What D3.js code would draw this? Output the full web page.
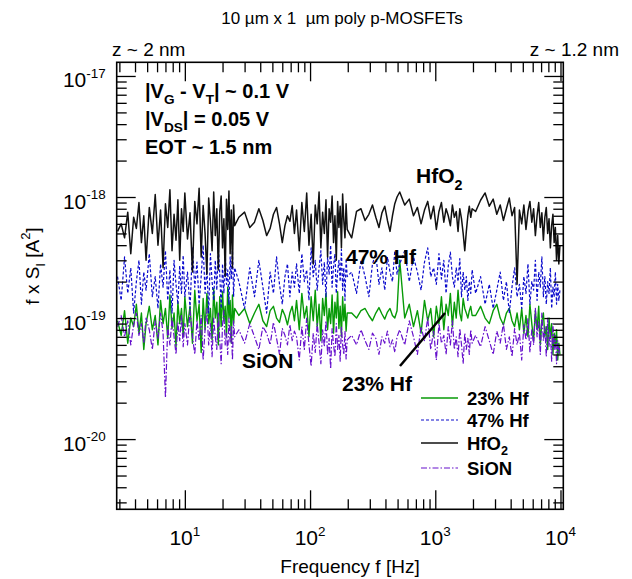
<!DOCTYPE html>
<html>
<head>
<meta charset="utf-8">
<script src="https://cdn.jsdelivr.net/npm/d3@7"></script>
<style>
  body { margin: 0; background: #fff; }
  svg { display: block; font-family: "Liberation Sans", Arial, Helvetica, sans-serif; }
</style>
</head>
<body>
<div id="chart"></div>
<script>
/* f x S_I gegen Frequenz, 10 µm x 1 µm poly p-MOSFETs
 * Werte abgelesen, Einheit 1e-19 A^2 */

const UNIT = 1e-19;

// Frequenzraster [Hz]
const FREQ_HZ = [
  2.9, 3.1, 3.3, 3.5, 3.7, 3.9, 4.1, 4.3, 4.5, 4.7, 4.9,
  5.2, 5.5, 5.8, 6.1, 6.4, 6.7, 7.0, 7.3, 7.6, 7.9, 8.2, 8.5, 8.8, 9.1, 9.4, 9.7,
  10, 10.5, 11, 11.5, 12, 12.5, 13, 13.5, 14, 14.5, 15, 15.5, 16, 16.5, 17, 17.5,
  18, 18.5, 19, 19.5, 20, 20.5, 21, 21.5, 22, 22.5, 23, 23.5, 24, 24.5, 25,
  27, 30, 33, 36, 39, 42, 45, 48, 51, 54, 57, 60, 63, 66, 69, 72, 75,
  78, 82, 86, 90, 94, 98, 102, 106, 110, 114, 118, 122, 126, 130, 134, 138, 142,
  146, 150, 154, 158, 162, 166, 170, 174, 178, 182, 186, 190, 194, 198,
  215, 235, 255, 275, 295, 315, 335, 355, 375, 395, 415, 435, 455, 475, 495,
  520, 570, 620, 670, 720, 770, 820, 870, 920, 970, 1020, 1070, 1120, 1170, 1220,
  1270, 1320, 1370, 1420, 1470, 1520, 1570, 1620, 1670, 1720, 1770, 1820, 1870, 1920, 1970,
  2100, 2300, 2500, 2700, 2900, 3100, 3300, 3500, 3700, 3900, 4100, 4300, 4500, 4700,
  4900, 5100, 5300, 5500, 5700, 5900, 6100, 6300, 6500, 6700, 6900, 7100, 7300, 7500,
  7700, 7900, 8100, 8300, 8500, 8700, 8900, 9100, 9300, 9500, 9700, 9900
];

const HF23 = [
  0.95, 0.72, 1.15, 0.62, 1.0, 0.85, 1.3, 0.75, 1.1, 0.55, 0.9,
  1.25, 0.8, 1.05, 0.6, 1.4, 0.9, 1.2, 0.68, 1.55, 0.82, 1.1, 0.58, 1.35, 0.9, 1.2, 0.7,
  1.5, 0.85, 1.25, 0.62, 1.7, 0.95, 1.3, 0.52, 1.45, 0.8, 1.6, 0.9, 1.2, 0.66, 1.75, 1.0,
  1.35, 0.6, 1.5, 0.85, 1.65, 0.95, 1.25, 0.7, 1.8, 1.0, 1.4, 0.62, 1.55, 0.9, 1.2,
  1.05, 1.2, 0.9, 1.1, 1.3, 0.95, 0.85, 1.15, 1.25, 1.0, 0.92, 1.18, 1.05, 0.88, 1.1, 1.25, 0.95,
  1.4, 0.8, 1.6, 1.0, 1.25, 0.7, 1.5, 0.95, 1.7, 0.85, 1.3, 0.65, 1.45, 1.05, 1.6, 0.8,
  1.2, 0.9, 1.55, 0.75, 1.35, 1.0, 1.65, 0.82, 1.25, 0.7, 1.5, 0.95, 1.3, 0.78, 1.1,
  1.1, 1.0, 1.15, 1.2, 1.05, 0.95, 1.1, 1.22, 1.08, 0.98, 1.12, 1.2, 1.05, 1.0, 1.15,
  3.0, 1.0, 1.3, 0.85, 1.15, 0.75, 1.4, 0.95, 1.2, 0.7, 1.25, 0.9, 1.5, 0.8, 1.3,
  1.05, 1.6, 0.85, 1.35, 1.0, 1.7, 1.1, 0.95, 1.45, 1.2, 1.1, 1.0, 1.15, 1.25, 1.05,
  1.05, 1.25, 1.0, 0.9, 1.15, 1.3, 1.0, 0.88, 1.1, 1.2, 0.95, 0.85, 1.1, 0.8,
  1.2, 0.75, 1.05, 0.7, 1.3, 0.9, 0.65, 1.15, 0.8, 1.25, 0.6, 0.95, 1.1, 0.7,
  0.85, 0.55, 1.0, 0.68, 0.9, 0.5, 0.75, 0.58, 0.8, 0.45, 0.62, 0.5
];

const HF47 = [
  2.2, 1.4, 3.2, 1.6, 2.6, 1.1, 2.0, 3.0, 1.3, 2.4, 1.7,
  3.4, 1.5, 2.2, 1.2, 2.8, 1.8, 3.6, 1.4, 2.5, 1.1, 3.0, 1.9, 1.3, 2.7, 1.6, 3.3,
  1.5, 2.4, 1.2, 3.8, 1.8, 2.9, 1.3, 2.2, 4.0, 1.6, 2.6, 1.1, 3.4, 2.0, 1.4, 3.0,
  1.7, 3.9, 2.3, 1.2, 2.8, 1.6, 3.5, 1.9, 2.5, 1.3, 3.2, 2.1, 3.8, 1.5, 2.6,
  2.0, 1.2, 2.6, 1.5, 3.0, 1.8, 1.1, 2.4, 1.6, 3.2, 1.9, 1.3, 2.2, 2.8, 1.5, 2.4, 1.8,
  2.8, 1.6, 3.4, 2.0, 2.5, 1.4, 3.8, 2.2, 3.0, 1.7, 2.6, 3.6, 1.9, 2.9, 1.5, 3.2,
  2.3, 4.0, 1.8, 2.7, 3.4, 1.6, 2.4, 3.0, 2.0, 3.7, 1.7, 2.6, 1.4, 3.1, 2.2,
  2.4, 1.6, 3.0, 2.2, 1.5, 2.8, 3.4, 1.9, 2.6, 1.7, 3.2, 2.4, 2.0, 3.6, 2.3,
  2.8, 3.6, 2.0, 3.2, 2.4, 1.7, 2.9, 3.8, 2.2, 2.6, 1.9, 3.4, 2.1, 3.0, 1.6,
  2.7, 3.5, 2.2, 1.8, 2.6, 2.0, 3.1, 1.5, 2.4, 1.7, 2.2, 1.4, 2.0, 1.6, 2.5,
  1.6, 2.2, 1.3, 1.9, 1.2, 1.7, 2.4, 1.4, 2.0, 1.1, 1.8, 2.6, 1.5, 1.9,
  1.2, 2.2, 1.6, 2.8, 1.3, 2.0, 1.7, 3.0, 1.4, 2.4, 1.8, 3.2, 1.5, 2.2,
  1.3, 2.0, 1.6, 2.6, 1.2, 1.8, 1.5, 2.4, 1.3, 1.9, 1.4, 1.7
];

const HFO2 = [
  5.2, 6.0, 4.6, 7.5, 3.4, 6.8, 5.5, 9.0, 4.2, 7.0, 3.0,
  8.2, 5.0, 10.5, 4.0, 7.8, 2.6, 8.8, 5.6, 11.5, 3.6, 7.2, 4.4, 9.5, 3.0, 8.0, 5.2,
  10.8, 4.5, 7.4, 2.4, 9.2, 6.0, 11.8, 3.2, 8.5, 5.0, 2.3, 9.8, 6.4, 3.6, 11.0, 4.8,
  8.0, 2.5, 7.6, 10.2, 3.8, 6.6, 2.2, 9.6, 5.4, 11.2, 3.4, 7.8, 2.6, 8.6, 5.8,
  6.8, 7.5, 5.6, 6.2, 8.0, 6.4, 4.8, 5.5, 7.2, 8.2, 6.0, 4.2, 5.8, 7.0, 6.3, 8.5, 5.0,
  7.8, 3.6, 9.0, 5.2, 10.8, 4.0, 7.2, 2.8, 8.6, 6.0, 11.0, 3.8, 7.5, 5.0, 9.5, 3.2,
  8.0, 6.2, 10.2, 4.2, 7.0, 3.0, 9.2, 5.6, 8.4, 3.8, 10.6, 6.4, 4.6, 8.8, 5.4,
  4.6, 7.6, 8.0, 6.4, 7.2, 8.6, 6.8, 5.6, 7.4, 8.4, 6.4, 5.2, 7.0, 8.8, 10.0,
  11.0, 8.6, 9.6, 7.0, 8.2, 6.0, 7.8, 9.2, 6.6, 8.4, 5.4, 7.6, 9.0, 6.2, 8.0,
  7.0, 5.8, 8.6, 6.8, 7.6, 5.2, 8.0, 6.6, 5.0, 3.6, 5.2, 7.0, 8.4, 6.8, 8.0,
  7.6, 9.4, 10.8, 8.4, 9.6, 7.2, 8.6, 6.4, 8.0, 9.8, 7.0, 8.2, 1.9, 7.8,
  6.0, 8.6, 5.4, 7.6, 9.2, 6.2, 8.0, 4.8, 7.0, 9.0, 5.6, 7.4, 4.4, 6.8,
  8.2, 5.0, 6.6, 3.8, 5.8, 7.2, 4.2, 5.6, 3.0, 4.8, 2.8, 4.0
];

const SION = [
  0.85, 1.05, 0.7, 0.95, 0.6, 0.88, 1.1, 0.72, 0.9, 0.62, 1.0,
  0.8, 0.55, 0.95, 0.68, 1.1, 0.75, 0.22, 0.85, 0.6, 1.0, 0.7, 0.5, 0.92, 0.65, 1.05, 0.58,
  0.9, 0.6, 1.15, 0.7, 0.5, 0.95, 0.65, 1.05, 0.45, 0.8, 1.2, 0.6, 0.9, 0.48, 1.0, 0.7,
  0.55, 1.1, 0.66, 0.42, 0.88, 1.15, 0.6, 0.75, 0.5, 1.0, 0.62, 0.85, 0.45, 0.95, 0.7,
  0.8, 0.62, 0.9, 0.7, 0.55, 0.85, 0.75, 0.6, 0.92, 0.68, 0.5, 0.82, 0.72, 0.6, 0.88, 0.65, 0.78,
  0.7, 0.45, 0.85, 0.55, 1.0, 0.6, 0.4, 0.75, 0.52, 0.9, 0.62, 0.42, 0.8, 0.58, 0.95, 0.5,
  0.68, 0.38, 0.82, 0.6, 0.48, 0.9, 0.55, 0.72, 0.44, 0.85, 0.6, 0.5, 0.78, 0.46, 0.66,
  0.72, 0.6, 0.8, 0.65, 0.55, 0.75, 0.68, 0.5, 0.7, 0.62, 0.78, 0.58, 0.66, 0.52, 0.7,
  0.8, 0.6, 0.95, 0.7, 0.5, 0.85, 0.65, 1.0, 0.55, 0.78, 0.45, 0.9, 0.62, 0.72, 0.5,
  0.85, 0.6, 0.95, 0.55, 0.7, 0.48, 0.82, 0.6, 0.42, 0.75, 0.55, 0.68, 0.5, 0.8, 0.62,
  0.72, 0.58, 0.85, 0.65, 0.5, 0.78, 0.62, 0.9, 0.55, 0.7, 0.48, 0.82, 0.6, 0.75,
  0.45, 0.88, 0.66, 1.0, 0.52, 0.8, 0.6, 1.2, 0.7, 0.95, 0.5, 1.1, 0.65, 0.85,
  0.48, 1.0, 0.58, 0.78, 0.44, 0.9, 0.55, 0.72, 0.42, 0.65, 0.5, 0.6
];

const X_MAJOR = [10, 100, 1000, 10000];
const Y_MAJOR = [1e-20, 1e-19, 1e-18, 1e-17];

// Darstellung (Reihenfolge = Legende)
const SERIES = [
  { label: "23% Hf", sub: null, values: HF23, color: "#079a07", dash: null, width: 1.4 },
  { label: "47% Hf", sub: null, values: HF47, color: "#0a0acc", dash: "3,2", width: 1.2 },
  { label: "HfO", sub: "2", values: HFO2, color: "#111111", dash: null, width: 1.5 },
  { label: "SiON", sub: null, values: SION, color: "#6610cc", dash: "6,2,1.5,2", width: 1.2 },
];

const W = 632, H = 579;
const margin = { top: 62.3, left: 116.7, right: 632 - 563.3, bottom: 579 - 509.3 };
const iw = W - margin.left - margin.right;
const ih = H - margin.top - margin.bottom;

const svg = d3.select("#chart").append("svg")
  .attr("width", W).attr("height", H);

const g = svg.append("g").attr("transform", `translate(${margin.left},${margin.top})`);

const x = d3.scaleLog().domain([2.856, 10530]).range([0, iw]);
const y = d3.scaleLog().domain([2.63e-21, 1.297e-17]).range([ih, 0]);

// Text mit Hoch-/Tiefstellung
function richText(parent, px, py, parts, size, opts = {}) {
  const t = parent.append("text")
    .attr("x", px).attr("y", py)
    .attr("font-size", size)
    .attr("font-weight", opts.bold ? "bold" : null)
    .attr("text-anchor", opts.anchor || "start")
    .attr("fill", "#000");
  if (opts.transform) t.attr("transform", opts.transform);
  const small = opts.small || 0.68;
  let shift = 0;
  parts.forEach(([s, kind]) => {
    const target = kind === "sub" ? size * 0.32 : kind === "sup" ? -size * 0.45 : 0;
    t.append("tspan")
      .attr("dy", target - shift)
      .attr("font-size", kind ? size * small : size)
      .text(s);
    shift = target;
  });
  return t;
}

// Kurven
svg.append("clipPath").attr("id", "plotclip")
  .append("rect").attr("width", iw).attr("height", ih);

const plot = g.append("g").attr("clip-path", "url(#plotclip)");
const line = d3.line().x(d => x(d[0])).y(d => y(d[1] * UNIT));

SERIES.forEach(s => {
  plot.append("path")
    .datum(d3.zip(FREQ_HZ, s.values))
    .attr("fill", "none")
    .attr("stroke", s.color)
    .attr("stroke-width", s.width)
    .attr("stroke-dasharray", s.dash)
    .attr("stroke-linejoin", "round")
    .attr("d", line);
});

// Achsen: Ticks nach innen, auf allen vier Seiten
const xMinor = x.ticks().filter(v => !X_MAJOR.includes(v));
const yMinor = y.ticks().filter(v => !Y_MAJOR.some(m => Math.abs(m - v) / m < 1e-6));
const MAJ = 19, MIN = 10;

function ticksAxis(axisFn, scale, values, size, transform) {
  g.append("g")
    .attr("transform", transform)
    .call(axisFn(scale).tickValues(values).tickSize(size).tickFormat(""))
    .call(a => a.select(".domain").remove())
    .call(a => a.selectAll("line").attr("stroke", "#000").attr("stroke-width", 1.3));
}
ticksAxis(d3.axisBottom, x, X_MAJOR, -MAJ, `translate(0,${ih})`);
ticksAxis(d3.axisBottom, x, xMinor, -MIN, `translate(0,${ih})`);
ticksAxis(d3.axisTop, x, X_MAJOR, -MAJ, "translate(0,0)");
ticksAxis(d3.axisTop, x, xMinor, -MIN, "translate(0,0)");
ticksAxis(d3.axisLeft, y, Y_MAJOR, -MAJ, "translate(0,0)");
ticksAxis(d3.axisLeft, y, yMinor, -MIN, "translate(0,0)");
ticksAxis(d3.axisRight, y, Y_MAJOR, -MAJ, `translate(${iw},0)`);
ticksAxis(d3.axisRight, y, yMinor, -MIN, `translate(${iw},0)`);

g.append("rect")
  .attr("width", iw).attr("height", ih)
  .attr("fill", "none").attr("stroke", "#000").attr("stroke-width", 1.6);

// Tick-Beschriftungen
X_MAJOR.forEach(v => {
  richText(g, x(v), ih + 36, [["10", null], [String(Math.round(Math.log10(v))), "sup"]], 21,
    { anchor: "middle", small: 0.64 });
});
Y_MAJOR.forEach(v => {
  richText(g, -11, y(v) + 11.5, [["10", null], [String(Math.round(Math.log10(v))), "sup"]], 21,
    { anchor: "end", small: 0.64 });
});

// Achsentitel
svg.append("text")
  .attr("x", margin.left + iw / 2 + 10).attr("y", 573)
  .attr("text-anchor", "middle").attr("font-size", 19)
  .text("Frequency f [Hz]");

richText(svg, 0, 0, [["f x S", null], ["I", "sub"], [" [A", null], ["2", "sup"], ["]", null]], 19,
  { anchor: "middle", transform: "translate(39,266) rotate(-90)" });

svg.append("text")
  .attr("x", 342).attr("y", 24)
  .attr("text-anchor", "middle").attr("font-size", 17)
  .style("white-space", "pre")
  .text("10 \u00b5m x 1  \u00b5m poly p-MOSFETs");

svg.append("text").attr("x", 112).attr("y", 56).attr("font-size", 19).text("z ~ 2 nm");
svg.append("text").attr("x", 619).attr("y", 56).attr("text-anchor", "end").attr("font-size", 19).text("z ~ 1.2 nm");

// Bedingungen
const cond = svg.append("g");
richText(cond, 145, 98, [["|V", null], ["G", "sub"], [" - V", null], ["T", "sub"], ["| ~ 0.1 V", null]], 20, { bold: true });
richText(cond, 145, 126, [["|V", null], ["DS", "sub"], ["| = 0.05 V", null]], 20, { bold: true });
richText(cond, 145, 154, [["EOT ~ 1.5 nm", null]], 20, { bold: true });

// Kurvenbeschriftungen
richText(svg, 416, 183, [["HfO", null], ["2", "sub"]], 21, { bold: true });
richText(svg, 346, 264, [["47% Hf", null]], 21, { bold: true });
richText(svg, 242, 368, [["SiON", null]], 21, { bold: true });
richText(svg, 342, 391, [["23% Hf", null]], 21, { bold: true });
svg.append("line")
  .attr("x1", 400).attr("y1", 366).attr("x2", 445).attr("y2", 313)
  .attr("stroke", "#000").attr("stroke-width", 2.5);

// Legende
const LEGEND_Y = [398, 420, 443, 468];
const legend = svg.append("g");
SERIES.forEach((s, i) => {
  const ly = LEGEND_Y[i];
  legend.append("line")
    .attr("x1", 421).attr("x2", 458).attr("y1", ly).attr("y2", ly)
    .attr("stroke", s.color).attr("stroke-width", s.width)
    .attr("stroke-dasharray", s.dash);
  const parts = [[s.label, null]];
  if (s.sub) parts.push([s.sub, "sub"]);
  richText(legend, 467, ly + 6.5, parts, 18.5, { bold: true });
});
</script>
</body>
</html>
